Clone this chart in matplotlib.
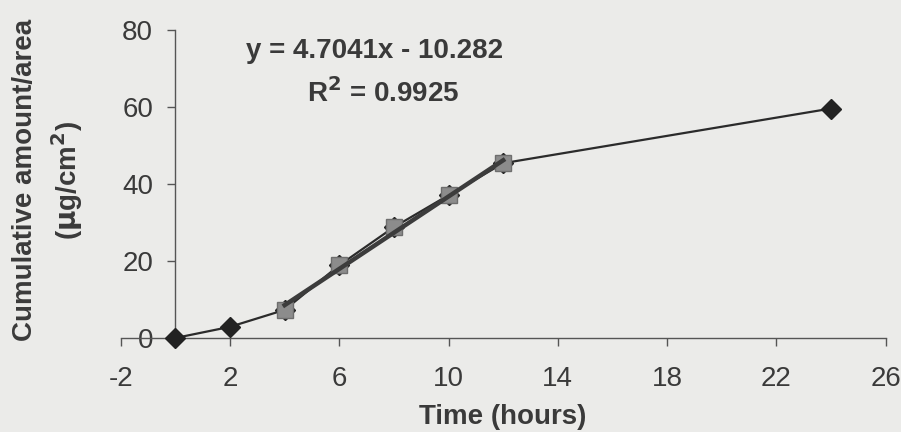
import matplotlib.pyplot as plt
import numpy as np

plt.rcParams['font.family'] = ['Liberation Sans', 'DejaVu Sans']
plt.rcParams['axes.unicode_minus'] = False

# cumulative amount per area vs time
time_all = [0, 2, 4, 6, 8, 10, 12, 24]
amount_all = [0, 2.9, 7.3, 18.9, 28.8, 37.1, 45.4, 59.6]

# points used for the linear fit (4-12 h)
time_fit = [4, 6, 8, 10, 12]
amount_fit = [7.3, 18.9, 28.8, 37.1, 45.4]

slope = 4.7041
intercept = -10.282

bg = '#ebebe9'
txt = '#3a3a3a'

fig = plt.figure(figsize=(9.01, 4.32), dpi=100, facecolor=bg)
ax = fig.add_axes([0.134, 0.2176, 0.849, 0.713], facecolor=bg)

ax.plot(time_all, amount_all, color='#2b2b2b', lw=1.6, marker='D', ms=10,
        mfc='#222222', mec='#222222', clip_on=False, zorder=3)
ax.plot(time_fit, amount_fit, ls='none', marker='s', ms=11,
        mfc='#8c8c8c', mec='#6e6e6e', clip_on=False, zorder=4)
xf = np.array([time_fit[0], time_fit[-1]])
ax.plot(xf, slope * xf + intercept, color='#3c3c3c', lw=3.2, zorder=5)

ax.set_xlim(-2, 26)
ax.set_ylim(0, 80)
ax.set_xticks(np.arange(-2, 27, 4))
ax.set_yticks([0, 20, 40, 60, 80])

ax.spines['top'].set_visible(False)
ax.spines['right'].set_visible(False)
ax.spines['left'].set_position(('data', 0))
for s in ['left', 'bottom']:
    ax.spines[s].set_color('#555555')
    ax.spines[s].set_linewidth(1)

ax.tick_params(axis='both', direction='out', length=6, width=1, color='#555555',
               labelsize=20, labelcolor=txt)
ax.tick_params(axis='x', pad=14)
ax.tick_params(axis='y', pad=10)

fig.text(0.558, 0.018, 'Time (hours)', ha='center', va='baseline',
         fontsize=20, fontweight='bold', color=txt)
fig.text(0.028, 0.583, 'Cumulative amount/area', rotation=90,
         ha='center', va='center', fontsize=20, fontweight='bold', color=txt)
fig.text(0.074, 0.583, '($\\mathbf{\\mu}$g/cm$^{\\mathbf{2}}$)', rotation=90,
         ha='center', va='center', fontsize=20, fontweight='bold', color=txt)

ax.text(7.3, 74.5, 'y = 4.7041x - 10.282', ha='center', va='center',
        fontsize=20, fontweight='bold', color=txt)
ax.text(7.6, 63.5, 'R$^{\\mathbf{2}}$ = 0.9925', ha='center', va='center',
        fontsize=20, fontweight='bold', color=txt)

fig.savefig('out.png', dpi=100, facecolor=bg)
